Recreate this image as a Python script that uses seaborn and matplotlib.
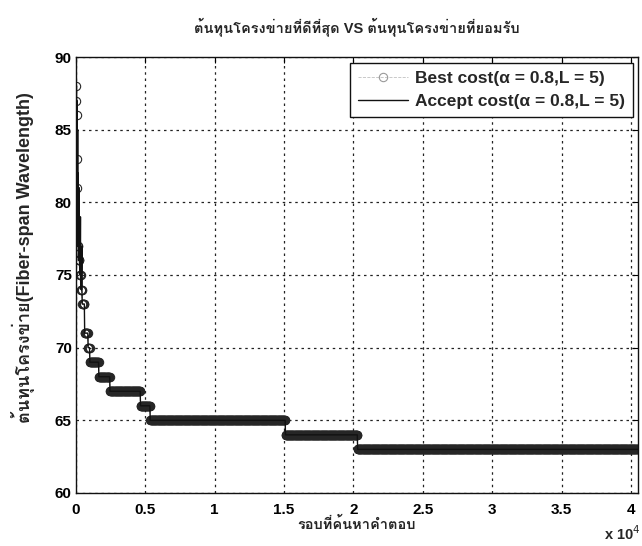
import numpy as np
import pandas as pd
import matplotlib
matplotlib.use("Agg")
import matplotlib.pyplot as plt
import seaborn as sns
from matplotlib import font_manager, ft2font

# Best-cost step levels: iteration where each level starts, and its cost
best_start = [0, 20, 40, 60, 80, 100, 120, 170, 260, 340, 450, 620, 870,
              1000, 1650, 2450, 4650, 5350, 15100, 20300]
best_cost = [88, 87, 86, 83, 82, 81, 77, 76, 75, 74, 73, 71, 70,
             69, 68, 67, 66, 65, 64, 63]
last_iter = 40500

# Early accepted costs that jump above the best cost
accept_iter = [30, 45, 60, 75, 90, 105, 120, 140, 160, 190, 230,
               280, 320, 380, 420]
accept_cost = [88, 85, 87, 84, 86, 80, 85, 78, 82, 77, 81, 75,
               79, 74, 77]

x_ticks = [0, 5000, 10000, 15000, 20000, 25000, 30000, 35000, 40000]
x_tick_labels = ["0", "0.5", "1", "1.5", "2", "2.5", "3", "3.5", "4"]
y_ticks = [60, 65, 70, 75, 80, 85, 90]

title_text = "ต้นทุนโครงข่ายที่ดีที่สุด VS ต้นทุนโครงข่ายที่ยอมรับ"
xlabel_text = "รอบที่ค้นหาคำตอบ"
ylabel_text = "ต้นทุนโครงข่าย(Fiber-span Wavelength)"
best_label = "Best cost(α = 0.8,L = 5)"
accept_label = "Accept cost(α = 0.8,L = 5)"


def thai_family():
    for f in font_manager.fontManager.ttflist:
        try:
            if 0x0E15 in ft2font.FT2Font(f.fname).get_charmap():
                return f.name
        except Exception:
            pass
    return None


sns.set_style("white")
thai = thai_family()
families = ["Liberation Sans"] + ([thai] if thai else []) + ["DejaVu Sans"]
plt.rcParams["font.family"] = families

# Sampled best-cost series (step function over recorded iterations)
sample_iter = np.arange(0, last_iter + 1, 25)
idx = np.searchsorted(best_start, sample_iter, side="right") - 1
best_df = pd.DataFrame({"iter": sample_iter,
                        "cost": np.asarray(best_cost)[idx]})

# Accepted-cost series: early jumps merged with the best-cost steps
acc_x = list(best_df["iter"]) + accept_iter
acc_y = list(best_df["cost"]) + accept_cost
acc_df = pd.DataFrame({"iter": acc_x, "cost": acc_y}).sort_values(
    "iter", kind="stable")

fig = plt.figure(figsize=(6.42, 5.46), dpi=100)
ax = fig.add_axes([0.1184, 0.0971, 0.8752, 0.7985])

sns.lineplot(data=best_df, x="iter", y="cost", ax=ax, sort=False,
             estimator=None, color="#8a8a8a", linestyle="--", linewidth=0.6,
             marker="o", markersize=6, markerfacecolor="none",
             markeredgecolor="#262626", markeredgewidth=0.8,
             label=best_label)
sns.lineplot(data=acc_df, x="iter", y="cost", ax=ax, sort=False,
             estimator=None, color="#111111", linewidth=1.0,
             label=accept_label)

ax.set_xlim(0, last_iter)
ax.set_ylim(60, 90)
ax.set_xticks(x_ticks)
ax.set_xticklabels(x_tick_labels)
ax.set_yticks(y_ticks)
ax.tick_params(direction="in", length=4, width=0.8, top=True, right=True,
               labelsize=11, colors="black")
ax.tick_params(axis="x", pad=7)
ax.tick_params(axis="y", pad=3)
for lab in ax.get_xticklabels() + ax.get_yticklabels():
    lab.set_fontweight("bold")

ax.grid(True, linestyle=(0, (2, 3)), color="#222222", linewidth=0.9)
for s in ax.spines.values():
    s.set_visible(True)
    s.set_color("#111111")
    s.set_linewidth(1.0)

ax.set_title(title_text, fontsize=10.5, fontweight="bold", pad=18)
ax.set_xlabel(xlabel_text, fontsize=10.5, fontweight="bold", labelpad=0)
ax.set_ylabel(ylabel_text, fontsize=13, fontweight="bold")
ax.yaxis.set_label_coords(-0.073, 0.54)
fig.text(0.997, 0.011, "x 10$^4$", ha="right", va="baseline",
         fontsize=10.5, fontweight="bold")

leg = ax.legend(loc="upper right", bbox_to_anchor=(0.991, 0.986),
                fontsize=12.5, frameon=True, fancybox=False,
                handlelength=2.9, borderpad=0.45, labelspacing=0.44,
                handletextpad=0.4, borderaxespad=0.0)
leg.get_frame().set_edgecolor("#111111")
leg.get_frame().set_linewidth(1.0)
leg.get_frame().set_alpha(1.0)
leg.legend_handles[0].set_markeredgecolor("#9a9a9a")
leg.legend_handles[0].set_color("#c0c0c0")
for t in leg.get_texts():
    t.set_fontweight("bold")

fig.savefig("out.png", dpi=100, facecolor="white")
